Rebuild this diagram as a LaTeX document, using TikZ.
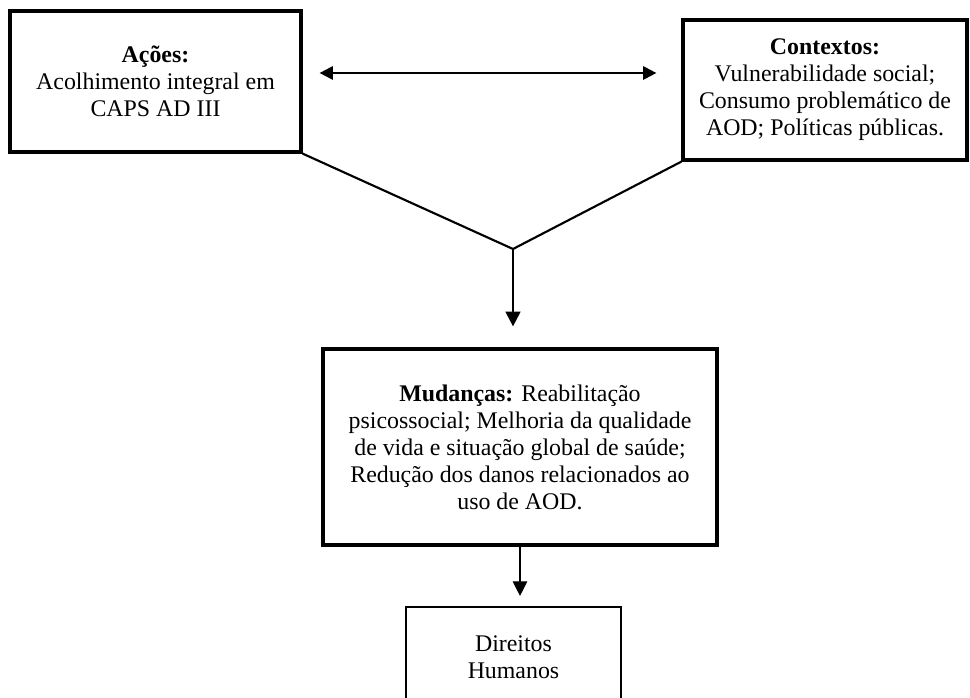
\documentclass[tikz,border=0pt]{standalone}
\usepackage{fontspec}
\setmainfont{Liberation Serif}
\usetikzlibrary{arrows.meta}
\begin{document}
\begin{tikzpicture}[x=0.75pt,y=-0.75pt,font=\fontsize{17.9}{20.25}\selectfont,
  box/.style={draw,line width=2.4pt,align=center,inner sep=0pt},
  link/.style={line width=1.6pt},
  arr/.style={line width=1.6pt,-{Triangle[length=11pt,width=11pt]}}]
  \clip (0,0) rectangle (970,698);
  \node[box,minimum width=218.25pt,minimum height=105.75pt] (acoes) at (155.5,81.5)
    {\textbf{Ações:}\\Acolhimento integral em\\CAPS AD III};
  \node[box,minimum width=213pt,minimum height=105pt] (contextos) at (825,90)
    {\textbf{Contextos:}\\Vulnerabilidade social;\\Consumo problemático de\\AOD; Políticas públicas.};
  \node[box,minimum width=295.5pt,minimum height=147pt] (mudancas) at (520,447)
    {\textbf{Mudanças:} Reabilitação\\psicossocial; Melhoria da qualidade\\de vida e situação global de saúde;\\Redução dos danos relacionados ao\\uso de AOD.};
  \node[box,line width=1.6pt,minimum width=161.25pt,minimum height=75pt] (direitos) at (513.5,657)
    {Direitos\\Humanos};
  \coordinate (join) at (513,249);
  % actions <-> contexts
  \draw[link,{Triangle[length=10pt,width=10pt]}-{Triangle[length=10pt,width=10pt]}]
    ([shift={(17,-8.5)}]acoes.east) -- ([shift={(-25,-17)}]contextos.west);
  \draw[link] (acoes.south east) -- (join) -- (contextos.south west);
  \draw[arr,shorten >=15.75pt] (join) -- (join |- mudancas.north);
  \draw[arr,line width=0.8pt,shorten >=7.5pt] (mudancas.south) -- (mudancas.south |- direitos.north);
\end{tikzpicture}
\end{document}
